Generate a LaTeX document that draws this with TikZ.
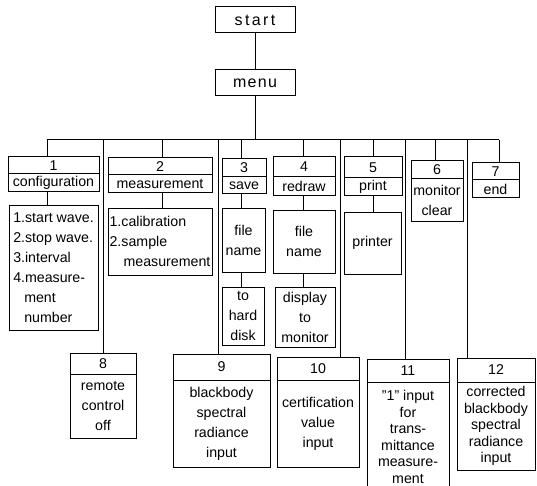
\documentclass[tikz,border=0pt]{standalone}
\usepackage{fontspec}
\setmainfont{Liberation Sans}
\newcommand{\fs}{\fontsize{14.2}{20}\selectfont}
\newcommand{\fss}{\fontsize{14.2}{16.6}\selectfont}
\tikzset{
  bx/.style={draw, line width=1pt, inner sep=0pt, align=center, font=\fs},
  tight/.style={font=\fss},
  ln/.style={line width=1pt},
}
\newcommand{\mybox}[7][]{\node[bx, minimum width={#4-#2}, minimum height={#5-#3}, #1] (#6) at ({(#2+#4)/2},{(#3+#5)/2}) {#7};}
\begin{document}
\begin{tikzpicture}[x=1pt,y=-1pt]
\useasboundingbox (0,0) rectangle (537,486);
% top
\mybox[font={\fontsize{16}{18}\selectfont\addfontfeatures{LetterSpace=15}}]{215}{7}{295}{33}{start}{start}
\mybox[font={\fontsize{16}{18}\selectfont\addfontfeatures{LetterSpace=8}}]{215}{70}{295}{96}{menu}{menu}
% column 1
\mybox{8}{157}{99}{174}{n1}{1}
\mybox{8}{174}{99}{192}{c1}{configuration}
\mybox[align=left]{9}{205}{98}{330}{l1}{1.start wave.\\2.stop wave.\\3.interval\\4.measure-\\\hspace*{11pt}ment\\\hspace*{11pt}number}
% column 2
\mybox{108}{158}{212}{175}{n2}{2}
\mybox{108}{175}{212}{193}{c2}{measurement}
\mybox[align=left]{108}{208}{212}{275}{l2}{1.calibration\\2.sample\\\hspace*{14pt}measurement}
% column 3
\mybox{222}{159}{266}{177}{n3}{3}
\mybox{222}{177}{266}{194}{c3}{save}
\mybox{222}{208}{265}{272}{l3a}{file\\name}
\mybox{222}{287}{264}{345}{l3b}{to\\hard\\disk}
% column 4
\mybox{273}{157}{335}{177}{n4}{4}
\mybox{273}{177}{335}{196}{c4}{redraw}
\mybox{273}{210}{335}{273}{l4a}{file\\name}
\mybox{275}{287}{335}{347}{l4b}{display\\to\\monitor}
% column 5
\mybox{344}{157}{402}{178}{n5}{5}
\mybox{344}{178}{402}{196}{c5}{print}
\mybox{344}{212}{401}{274}{l5}{printer}
% column 6
\mybox{411}{161}{463}{179}{n6}{6}
\mybox{411}{179}{463}{221}{c6}{monitor\\clear}
% column 7
\mybox{472}{163}{519}{180}{n7}{7}
\mybox{472}{180}{519}{198}{c7}{end}
% bottom row
\mybox{70}{353}{136}{374}{n8}{8}
\mybox{70}{374}{136}{438}{c8}{remote\\control\\off}
\mybox{173}{354}{270}{380}{n9}{9}
\mybox{173}{380}{270}{467}{c9}{blackbody\\spectral\\radiance\\input}
\mybox{277}{357}{359}{380}{n10}{10}
\mybox{277}{380}{359}{467}{c10}{certification\\value\\input}
\mybox{367}{359}{449}{382}{n11}{11}
\mybox[tight]{367}{382}{449}{492}{c11}{"1" input\\for\\trans-\\mittance\\measure-\\ment}
\mybox{457}{358}{535}{382}{n12}{12}
\mybox[tight]{457}{382}{535}{470}{c12}{corrected\\blackbody\\spectral\\radiance\\input}
% bus coordinates
\foreach \nm/\xx in {d1/47,d8/103,d2/162,d9/218,d3/241,d4/303,d10/340,d5/373,d11/405,d6/435,d12/467,d7/499}
  \coordinate (\nm) at (\xx,140);
% connectors
\draw[ln] (start) -- (menu);
\draw[ln] (menu.south) -- (menu.south |- d1);
\draw[ln] (d1) -- (d7);
\foreach \i in {1,...,7} \draw[ln] (d\i) -- (d\i |- n\i.north);
\foreach \i in {8,...,12} \draw[ln] (d\i) -- (d\i |- n\i.north);
\draw[ln] (c1.south -| d1) -- (l1.north -| d1);
\draw[ln] (c2.south -| d2) -- (l2.north -| d2);
\draw[ln] (c3.south -| d3) -- (l3a.north -| d3);
\draw[ln] (l3a.south -| d3) -- (l3b.north -| d3);
\draw[ln] (c4.south -| d4) -- (l4a.north -| d4);
\draw[ln] (l4a.south -| d4) -- (l4b.north -| d4);
\draw[ln] (c5.south -| d5) -- (l5.north -| d5);
\end{tikzpicture}
\end{document}
